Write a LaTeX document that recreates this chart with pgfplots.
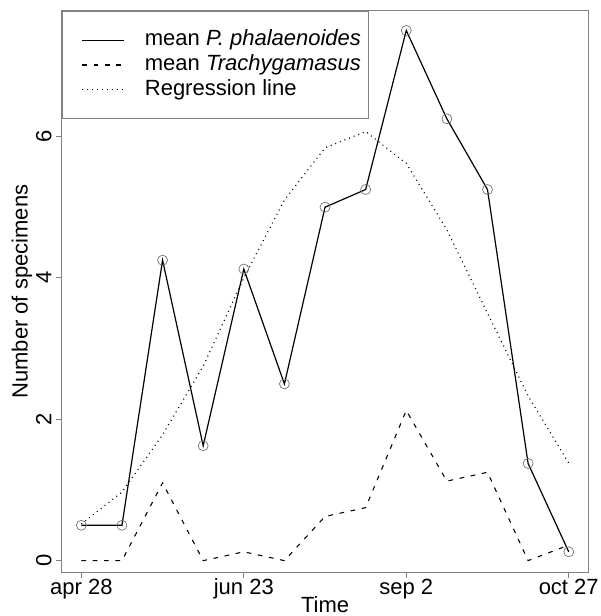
\documentclass[border=0pt]{standalone}
\usepackage{fontspec}
\setmainfont{Liberation Sans}
\usepackage{pgfplots}
\pgfplotsset{compat=1.18}
\definecolor{boxgray}{RGB}{130,130,130}
\definecolor{markgray}{RGB}{110,110,110}

\pgfplotstableread{
x  y
1  0.5
2  0.5
3  4.25
4  1.625
5  4.125
6  2.5
7  5.0
8  5.25
9  7.5
10 6.25
11 5.25
12 1.375
13 0.125
}\phal

\pgfplotstableread{
x  y
1  0
2  0
3  1.1
4  0
5  0.125
6  0
7  0.625
8  0.75
9  2.125
10 1.125
11 1.25
12 0
13 0.22
}\trachy

\pgfplotstableread{
x  y
1  0.52
2  0.97
3  1.78
4  2.75
5  4.0
6  5.1
7  5.84
8  6.07
9  5.62
10 4.68
11 3.5
12 2.33
13 1.38
}\regr

\begin{document}
\begin{tikzpicture}
	\begin{axis}[
			at={(0,0)}, anchor=south west,
			scale only axis,
			width=394.95pt,
			height=421.5pt,
			xmin=0.517, xmax=13.483,
			ymin=-0.17, ymax=7.78,
			axis line style={boxgray, line width=0.75pt},
			tick style={boxgray, line width=0.75pt},
			tick align=outside,
			major tick length=4.3pt,
			xtick pos=bottom, ytick pos=left,
			xtick={1,5,9,13},
			xticklabels={apr 28, jun 23, sep 2, oct 27},
			ytick={0,2,4,6},
			ticklabel style={font=\fontsize{16.5}{19}\selectfont,
				/pgf/number format/assume math mode=true},
			xticklabel style={anchor=base, inner sep=0pt, yshift=-11.7pt},
			yticklabel style={xshift=-3.5pt, rotate=90, anchor=base, inner sep=0pt},
			xlabel={Time},
			ylabel={Number of specimens},
			label style={font=\fontsize{16.5}{19}\selectfont},
			xlabel style={at={([yshift=-29.6pt]axis description cs:0.5,0)}, anchor=base},
			ylabel style={at={([xshift=-25.6pt]axis description cs:0,0.5)}, anchor=base, rotate=0},
			legend cell align=left,
			legend image code/.code={
				\path[draw=none] (0pt,0pt) -- (56.5pt,0pt);
				\draw[#1] (9.5pt,0pt) -- (41pt,0pt);
			},
			legend style={
				at={(0,1)}, anchor=north west,
				draw=boxgray, line width=0.75pt, fill=white,
				inner xsep=5.5pt, inner ysep=12.5pt,
				row sep=0pt,
				font=\fontsize{16.5}{19}\selectfont,
				nodes={inner sep=0pt, text height=13.6pt, text depth=5pt},
			},
		]

		\addplot [black, line width=0.9pt] table {\phal};
		\addlegendentry{mean \textit{P. phalaenoides}}

		\addplot [black, line width=0.8pt, dash pattern=on 3.5pt off 5pt] table {\trachy};
		\addlegendentry{mean \textit{Trachygamasus}}

		\addplot [black, line width=0.9pt, dash pattern=on 0.7pt off 3pt] table {\regr};
		\addlegendentry{Regression line}

		\addplot [only marks, mark=o, mark size=3.75pt, markgray,
			mark options={line width=0.5pt}, forget plot] table {\phal};
	\end{axis}
	\pgfresetboundingbox
	\path[use as bounding box] (-46.3pt,-32.5pt) rectangle (403.7pt,429.5pt);
\end{tikzpicture}
\end{document}
